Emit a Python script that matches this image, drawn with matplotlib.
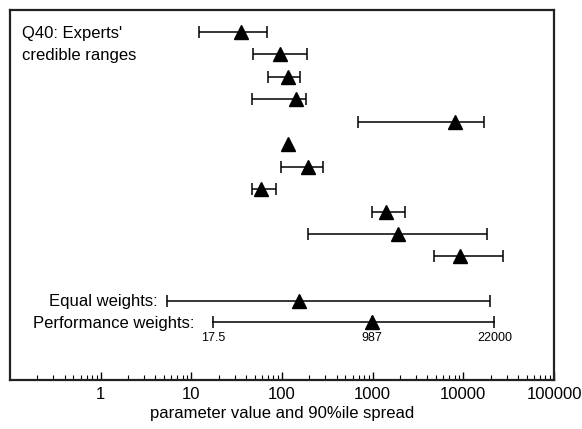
import numpy as np
import matplotlib
matplotlib.use('Agg')
import matplotlib.pyplot as plt
from matplotlib.ticker import LogLocator, FixedLocator, FixedFormatter, NullFormatter

plt.rcParams['font.family'] = ['Liberation Sans', 'DejaVu Sans']

# experts' 5% / 50% / 95% values
expert_lo = [12, 48, 70, 47, 690, np.nan, 98, 47, 975, 192, 4700]
expert_mid = [35, 96, 117, 142, 8100, 117, 192, 58, 1420, 1880, 9300]
expert_hi = [68, 190, 158, 186, 16700, np.nan, 282, 86, 2300, 18300, 27500]

equal_lo, equal_mid, equal_hi = 5.4, 154, 19600
perf_lo, perf_mid, perf_hi = 17.5, 987, 22000
perf_labels = ['17.5', '987', '22000']

xticks = [1, 10, 100, 1000, 10000, 100000]
xtick_labels = ['1', '10', '100', '1000', '10000', '100000']

fs = 12

fig = plt.figure(figsize=(5.82, 4.29), dpi=100)
ax = fig.add_axes([0.0172, 0.1142, 0.9347, 0.8625])

rows = np.arange(1, len(expert_mid) + 1)
for r, lo, mid, hi in zip(rows, expert_lo, expert_mid, expert_hi):
    if not np.isnan(lo):
        ax.errorbar([mid], [r], xerr=[[mid - lo], [hi - mid]], fmt='none',
                    ecolor='black', elinewidth=1.1, capsize=4, capthick=1.1)
    ax.plot(mid, r, marker='^', color='black', markersize=10, linestyle='none')

# equal weights
r_eq = 13
ax.errorbar([equal_mid], [r_eq], xerr=[[equal_mid - equal_lo], [equal_hi - equal_mid]],
            fmt='none', ecolor='black', elinewidth=1.1, capsize=4, capthick=1.1)
ax.plot(equal_mid, r_eq, marker='^', color='black', markersize=10, linestyle='none')
ax.annotate('Equal weights:', xy=(equal_lo, r_eq), xytext=(-7, 0), textcoords='offset points',
            ha='right', va='center', fontsize=fs)

# performance weights
r_pw = 13.93
ax.plot([perf_lo, perf_hi], [r_pw, r_pw], color='black', linewidth=1.1)
ax.plot([perf_lo, perf_mid, perf_hi], [r_pw] * 3, marker='|', color='black',
        markersize=9, markeredgewidth=1.1, linestyle='none')
ax.plot(perf_mid, r_pw, marker='^', color='black', markersize=10, linestyle='none')
for v, lab in zip([perf_lo, perf_mid, perf_hi], perf_labels):
    ax.annotate(lab, xy=(v, r_pw), xytext=(0, -7), textcoords='offset points',
                ha='center', va='top', fontsize=9)
ax.annotate('Performance weights:', xy=(perf_lo, r_pw), xytext=(-14, -1), textcoords='offset points',
            ha='right', va='center', fontsize=fs)

ax.text(0.022, 0.958, "Q40: Experts'\ncredible ranges", transform=ax.transAxes,
        ha='left', va='top', fontsize=fs, linespacing=1.6)

ax.set_xscale('log')
ax.set_xlim(0.1, 100000)
ax.set_ylim(16.5, 0.03)
ax.yaxis.set_visible(False)
ax.xaxis.set_major_locator(FixedLocator(xticks))
ax.xaxis.set_major_formatter(FixedFormatter(xtick_labels))
ax.xaxis.set_minor_locator(LogLocator(base=10, subs=np.arange(2, 10)))
ax.xaxis.set_minor_formatter(NullFormatter())
ax.tick_params(axis='x', which='major', direction='in', length=6, width=1, labelsize=fs, pad=5)
ax.tick_params(axis='x', which='minor', direction='in', length=3.5, width=0.8)
ax.set_xlabel('parameter value and 90%ile spread', fontsize=fs, labelpad=3)
for s in ax.spines.values():
    s.set_linewidth(1.6)
    s.set_color('#222222')

fig.savefig('out.png', dpi=100)
